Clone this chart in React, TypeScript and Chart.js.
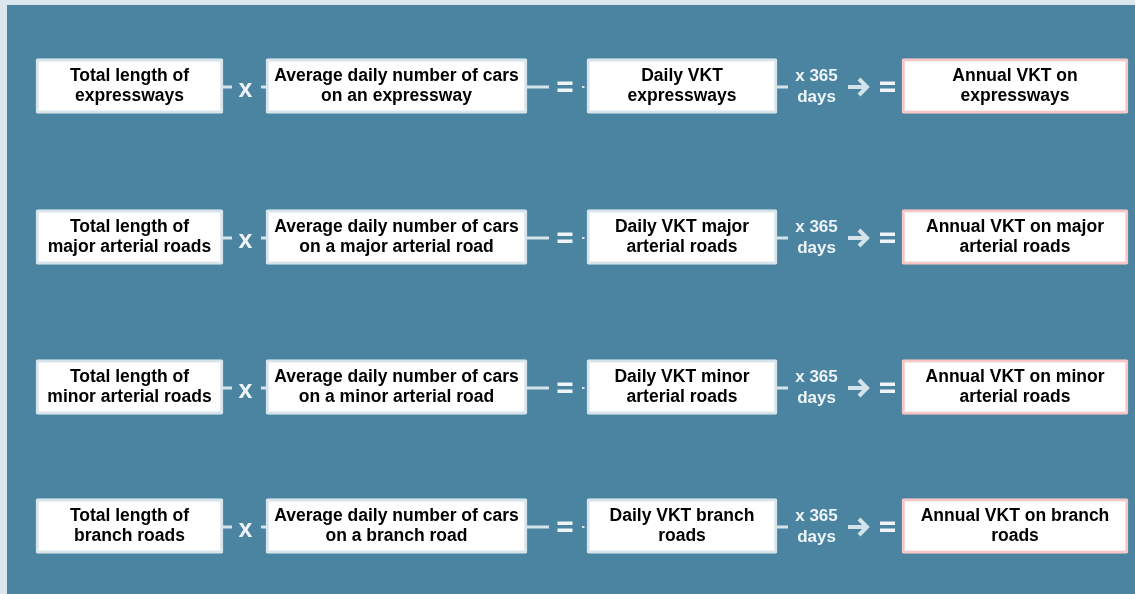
import { useEffect, useRef } from "react";
import { Chart, registerables } from "chart.js";

Chart.register(...registerables);

// ---- content (text of the diagram) ----
const rowNames = ["expressways", "major arterial roads", "minor arterial roads", "branch roads"];
const totalLengthLabels = [
  ["Total length of", "expressways"],
  ["Total length of", "major arterial roads"],
  ["Total length of", "minor arterial roads"],
  ["Total length of", "branch roads"],
];
const avgDailyCarsLabels = [
  ["Average daily number of cars", "on an expressway"],
  ["Average daily number of cars", "on a major arterial road"],
  ["Average daily number of cars", "on a minor arterial road"],
  ["Average daily number of cars", "on a branch road"],
];
const dailyVktLabels = [
  ["Daily VKT", "expressways"],
  ["Daily VKT major", "arterial roads"],
  ["Daily VKT minor", "arterial roads"],
  ["Daily VKT branch", "roads"],
];
const annualVktLabels = [
  ["Annual VKT on", "expressways"],
  ["Annual VKT on major", "arterial roads"],
  ["Annual VKT on minor", "arterial roads"],
  ["Annual VKT on branch", "roads"],
];
const multiplierLabel = ["x 365", "days"];
const multiplyOperator = "x";

// ---- layout (positions in scale units) ----
const W = 1135;
const H = 594;
const ROW_Y = [86, 237, 387, 526];
const COL_SPANS: [number, number][] = [
  [36, 223],
  [266, 527],
  [587, 777],
  [902, 1128],
];
const BOX_H = 55;

// ---- styles ----
const OUTER_BG = "#dce6ed";
const PANEL_BG = "#4b84a0";
const BOX_BORDER = "#d7e4ec";
const RESULT_BORDER = "#f8c6c6";
const LINK = "#d5e3ea";
const OP = "#eef4f8";
const FONT = '"Liberation Sans", Arial, sans-serif';

const columns = [totalLengthLabels, avgDailyCarsLabels, dailyVktLabels, annualVktLabels];

export default function App() {
  const ref = useRef<HTMLCanvasElement | null>(null);

  useEffect(() => {
    document.body.style.margin = "0";
    const canvas = ref.current;
    if (!canvas) return;

    const backgroundPlugin = {
      id: "panelBg",
      beforeDraw(chart: any) {
        const ctx = chart.ctx;
        ctx.save();
        ctx.fillStyle = OUTER_BG;
        ctx.fillRect(0, 0, chart.width, chart.height);
        ctx.fillStyle = PANEL_BG;
        ctx.fillRect(7, 5, chart.width - 7, chart.height - 5);
        ctx.restore();
      },
    };

    const connectorPlugin = {
      id: "connectors",
      afterDatasetsDraw(chart: any) {
        const ctx = chart.ctx;
        const xs = chart.scales.x;
        const ys = chart.scales.y;
        const px = (v: number) => xs.getPixelForValue(v);
        ctx.save();
        rowNames.forEach((_, r) => {
          const yc = ys.getPixelForValue(ROW_Y[r]) + 1;
          const [, c1r] = COL_SPANS[0];
          const [c2l, c2r] = COL_SPANS[1];
          const [c3l, c3r] = COL_SPANS[2];
          const [c4l] = COL_SPANS[3];
          // link lines
          ctx.fillStyle = LINK;
          ctx.fillRect(px(c1r), yc - 1.5, 9, 3);
          ctx.fillRect(px(c2l) - 5, yc - 1.5, 5, 3);
          ctx.fillRect(px(c2r), yc - 1.5, 22, 3);
          ctx.fillRect(px(c3l) - 5, yc - 1, 2.5, 2);
          ctx.fillRect(px(c3r), yc - 1.5, 11, 3);
          // "x" operator
          ctx.fillStyle = OP;
          ctx.font = `bold 25px ${FONT}`;
          ctx.textAlign = "center";
          ctx.textBaseline = "alphabetic";
          ctx.fillText(multiplyOperator, (px(c1r) + px(c2l)) / 2 + 1, yc + 10);
          // "=" signs
          const eq = (cx: number) => {
            ctx.fillStyle = OP;
            ctx.fillRect(cx - 7.5, yc - 5.5, 15, 3.5);
            ctx.fillRect(cx - 7.5, yc + 1.5, 15, 3.5);
          };
          eq(px(c2r) + 38);
          // x 365 days
          ctx.fillStyle = OP;
          ctx.font = `bold 17px ${FONT}`;
          const mx = px(c3r) + 39.5;
          ctx.fillText(multiplierLabel[0], mx, yc - 6);
          ctx.fillText(multiplierLabel[1], mx, yc + 15);
          // arrow
          const ax = px(c4l) - 44;
          ctx.strokeStyle = LINK;
          ctx.lineWidth = 4;
          ctx.lineCap = "butt";
          ctx.lineJoin = "miter";
          ctx.beginPath();
          ctx.moveTo(ax - 10, yc);
          ctx.lineTo(ax + 8, yc);
          ctx.stroke();
          ctx.beginPath();
          ctx.moveTo(ax + 1, yc - 8);
          ctx.lineTo(ax + 9, yc);
          ctx.lineTo(ax + 1, yc + 8);
          ctx.stroke();
          eq(px(c4l) - 14.5);
        });
        ctx.restore();
      },
    };

    const textPlugin = {
      id: "boxText",
      afterDatasetsDraw(chart: any) {
        const ctx = chart.ctx;
        ctx.save();
        ctx.fillStyle = "#000000";
        ctx.font = `bold 17.5px ${FONT}`;
        ctx.textAlign = "center";
        ctx.textBaseline = "middle";
        columns.forEach((labels, c) => {
          const meta = chart.getDatasetMeta(c);
          meta.data.forEach((el: any, r: number) => {
            const p = el.getProps(["x", "y", "base"], true);
            const cx = (p.x + p.base) / 2;
            const lines = labels[r];
            const lh = 20;
            const top = p.y - ((lines.length - 1) * lh) / 2;
            lines.forEach((t, i) => ctx.fillText(t, cx, top + i * lh));
          });
        });
        ctx.restore();
      },
    };

    const chart = new Chart(canvas, {
      type: "bar",
      data: {
        datasets: columns.map((labels, c) => ({
          label: `column ${c + 1}`,
          data: labels.map((_, r) => ({ y: ROW_Y[r], x: COL_SPANS[c] })) as any,
          backgroundColor: "#ffffff",
          borderColor: c === 3 ? RESULT_BORDER : BOX_BORDER,
          borderWidth: 3,
          borderSkipped: false,
          borderRadius: 2,
          barThickness: BOX_H,
          grouped: false,
        })),
      },
      options: {
        indexAxis: "y",
        responsive: false,
        animation: false,
        devicePixelRatio: 1,
        events: [],
        layout: { padding: 0 },
        plugins: { legend: { display: false }, tooltip: { enabled: false } },
        scales: {
          x: { type: "linear", min: 0, max: W, display: false, offset: false, grace: 0 },
          y: { type: "linear", min: 0, max: H, reverse: true, display: false, offset: false },
        },
      },
      plugins: [backgroundPlugin, connectorPlugin, textPlugin],
    });

    return () => chart.destroy();
  }, []);

  return (
    <div style={{ width: W, height: H }}>
      <canvas ref={ref} width={W} height={H} style={{ display: "block" }} />
    </div>
  );
}
